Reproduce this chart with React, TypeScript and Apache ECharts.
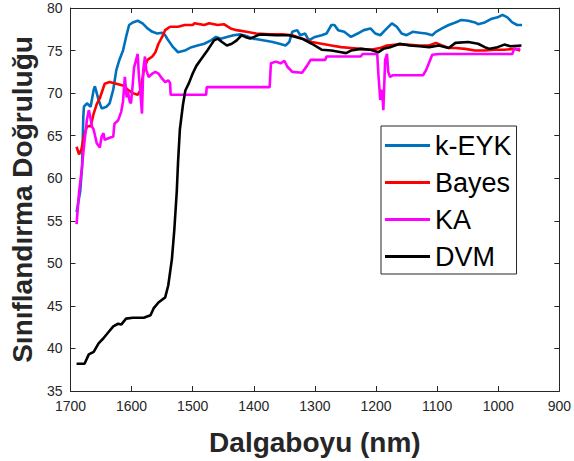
import React, { useEffect, useRef } from "react";
import * as echarts from "echarts";

const seriesNames = ["k-EYK", "Bayes", "KA", "DVM"];
const seriesColors = ["#0072BD", "#FF0000", "#FF00FF", "#000000"];

const kEYK: [number, number][] = [
  [1690, 56.0], [1684, 58.5], [1681, 61.4], [1679, 67.2], [1678, 68.4], [1673, 68.8], [1667, 68.4],
  [1662, 70.4], [1660, 70.8], [1654, 69.2], [1649, 68.2], [1641, 68.4], [1636, 68.8], [1630, 70.4],
  [1625, 72.7], [1620, 73.9], [1614, 75.0], [1609, 76.6], [1604, 78.0], [1598, 78.3], [1590, 78.5],
  [1582, 78.2], [1574, 77.6], [1566, 77.2], [1558, 77.0], [1550, 77.1], [1545, 76.8], [1540, 76.2],
  [1532, 75.4], [1524, 74.8], [1513, 75.0], [1502, 75.4], [1492, 75.6], [1481, 75.8], [1470, 76.2],
  [1462, 76.6], [1454, 76.4], [1444, 76.6], [1433, 76.8], [1422, 76.9], [1412, 76.7], [1401, 76.4],
  [1385, 76.2], [1369, 76.0], [1358, 75.8], [1348, 75.6], [1342, 76.0], [1337, 77.2], [1329, 77.4],
  [1324, 76.8], [1316, 77.0], [1310, 76.2], [1300, 76.6], [1289, 76.8], [1281, 77.0], [1273, 78.0],
  [1268, 78.0], [1262, 77.4], [1252, 77.2], [1241, 76.6], [1230, 77.0], [1220, 77.4], [1209, 77.6],
  [1201, 77.0], [1193, 76.8], [1185, 77.4], [1174, 78.2], [1166, 77.8], [1158, 77.0], [1150, 76.8],
  [1140, 77.2], [1129, 77.1], [1118, 77.0], [1108, 76.8], [1102, 77.2], [1092, 77.6], [1081, 78.0],
  [1070, 78.3], [1060, 78.6], [1049, 78.5], [1038, 78.3], [1033, 78.1], [1022, 78.3], [1012, 78.7],
  [1001, 78.9], [993, 79.2], [985, 78.9], [977, 78.3], [969, 78.0], [961, 78.0],
];

const bayes: [number, number][] = [
  [1690, 63.7], [1686, 62.8], [1682, 63.4], [1678, 64.9], [1673, 66.1], [1667, 66.1], [1662, 67.6],
  [1657, 68.7], [1652, 69.4], [1644, 71.1], [1636, 71.3], [1625, 71.1], [1614, 70.9], [1606, 70.4],
  [1598, 70.0], [1590, 69.8], [1585, 70.4], [1580, 72.7], [1574, 73.9], [1566, 74.3], [1561, 74.8],
  [1556, 75.8], [1550, 76.6], [1545, 77.4], [1537, 77.8], [1524, 77.8], [1513, 78.0], [1500, 78.0],
  [1497, 78.2], [1481, 78.0], [1473, 78.2], [1459, 78.0], [1449, 78.1], [1438, 77.6], [1428, 77.4],
  [1412, 77.2], [1396, 77.0], [1374, 76.9], [1353, 76.9], [1337, 76.8], [1321, 76.4], [1305, 76.0],
  [1289, 75.8], [1273, 75.6], [1257, 75.4], [1241, 75.3], [1225, 75.2], [1209, 75.1], [1193, 75.3],
  [1182, 75.6], [1166, 75.7], [1150, 75.7], [1129, 75.6], [1113, 75.6], [1102, 75.9], [1092, 75.6],
  [1081, 75.3], [1070, 75.3], [1054, 75.2], [1038, 75.0], [1022, 75.0], [1006, 75.1], [990, 75.1],
  [974, 75.2], [964, 75.0],
];

const ka: [number, number][] = [
  [1690, 54.6], [1686, 58.3], [1681, 61.4], [1678, 63.7], [1675.5, 65.3], [1673, 66.9], [1670, 68.0],
  [1667.5, 67.2], [1665, 66.1], [1662, 65.7], [1657, 64.1], [1652, 63.6], [1649, 64.9], [1646, 65.3],
  [1644, 64.5], [1638, 64.7], [1630, 64.9], [1628, 66.4], [1622, 66.8], [1617, 67.8], [1614, 69.0],
  [1611, 71.9], [1608, 69.5], [1606, 70.2], [1603, 69.0], [1601, 68.8], [1598, 71.1], [1596, 73.0],
  [1590, 74.6], [1588, 72.0], [1586, 70.5], [1583, 67.6], [1581, 72.7], [1578, 74.3], [1576, 72.7],
  [1572, 71.9], [1566, 72.3], [1561, 72.5], [1556, 72.3], [1550, 71.7], [1545, 71.3], [1540, 71.5],
  [1537, 71.2], [1536, 69.8], [1478, 69.8], [1477, 70.7], [1374, 70.7], [1372, 73.5], [1364, 73.7],
  [1356, 73.5], [1350, 73.8], [1345, 73.1], [1337, 72.5], [1321, 72.4], [1313, 73.2], [1307, 73.9],
  [1283, 73.9], [1281, 74.3], [1225, 74.3], [1222, 74.6], [1198, 74.6], [1196, 72.1], [1193, 69.2],
  [1190, 70.4], [1188, 68.0], [1185, 73.9], [1182, 74.6], [1180, 72.5], [1177, 71.9], [1172, 72.1],
  [1123, 72.1], [1118, 72.7], [1113, 73.6], [1108, 74.5], [1097, 74.6], [977, 74.6], [974, 75.2],
  [964, 75.2],
];

const dvm: [number, number][] = [
  [1690, 38.2], [1677, 38.2], [1670, 39.3], [1662, 39.6], [1654, 40.6], [1646, 41.2], [1638, 41.9],
  [1630, 42.6], [1622, 42.9], [1617, 42.8], [1609, 43.5], [1598, 43.6], [1580, 43.6], [1569, 43.9],
  [1564, 44.7], [1556, 45.4], [1545, 46.0], [1540, 47.4], [1534, 50.5], [1530, 54.0], [1526, 58.5],
  [1524, 61.8], [1521, 65.7], [1516, 68.6], [1512, 70.3], [1506, 71.2], [1500, 72.3], [1494, 73.2],
  [1486, 74.0], [1476, 75.0], [1465, 76.2], [1459, 76.4], [1452, 76.0], [1444, 75.6], [1436, 75.8],
  [1428, 76.2], [1420, 76.8], [1414, 76.6], [1406, 76.4], [1390, 76.9], [1364, 76.8], [1342, 76.8],
  [1321, 76.4], [1305, 75.8], [1289, 75.1], [1273, 75.0], [1257, 74.8], [1249, 74.7], [1241, 75.0],
  [1225, 75.2], [1209, 75.1], [1196, 74.8], [1188, 75.2], [1177, 75.4], [1161, 75.8], [1145, 75.6],
  [1129, 75.5], [1113, 75.4], [1097, 75.6], [1081, 75.3], [1070, 75.9], [1049, 76.0], [1033, 75.8],
  [1022, 75.4], [1014, 75.2], [1001, 75.4], [990, 75.7], [980, 75.5], [962, 75.6],
];

const xTicks = { min: 900, max: 1700, interval: 100 };
const yTicks = { min: 35, max: 80, interval: 5 };
const xTitle = "Dalgaboyu (nm)";
const yTitle = "Sınıflandırma Doğruluğu";

const FONT = "'Liberation Sans', Arial, Helvetica, sans-serif";
const AX = "#262626";

export default function App() {
  const ref = useRef<HTMLDivElement>(null);
  useEffect(() => {
    if (!ref.current) return;
    const chart = echarts.init(ref.current, undefined, { renderer: "svg" });
    const allData = [kEYK, bayes, ka, dvm];
    const axisCommon = {
      axisLine: { show: true, lineStyle: { color: AX, width: 1 } },
      axisTick: { show: true, inside: true, length: 5, lineStyle: { color: AX } },
      splitLine: { show: false },
    };
    const plain = (v: number) => String(v);
    chart.setOption({
      animation: false,
      backgroundColor: "#ffffff",
      textStyle: { fontFamily: FONT },
      grid: { left: 63, right: 11, top: 8, bottom: 69, containLabel: false },
      legend: {
        data: seriesNames,
        orient: "vertical",
        left: 381,
        top: 126,
        padding: [6, 5, 4, 4],
        itemWidth: 45,
        itemHeight: 3,
        itemGap: 10,
        icon: "rect",
        backgroundColor: "#ffffff",
        borderColor: AX,
        borderWidth: 1,
        borderRadius: 0,
        textStyle: { fontSize: 27, color: "#000", fontFamily: FONT, lineHeight: 26 },
      },
      xAxis: [
        {
          type: "value",
          inverse: true,
          ...xTicks,
          ...axisCommon,
          axisLabel: { color: AX, fontSize: 14, margin: 8, fontFamily: FONT, formatter: plain },
          name: xTitle,
          nameLocation: "middle",
          nameGap: 37,
          nameTextStyle: { fontSize: 28, fontWeight: "bold", color: AX, fontFamily: FONT },
        },
        {
          type: "value",
          inverse: true,
          position: "top",
          ...xTicks,
          ...axisCommon,
          axisLabel: { show: false },
        },
      ],
      yAxis: [
        {
          type: "value",
          ...yTicks,
          ...axisCommon,
          axisLabel: { color: AX, fontSize: 14, margin: 8, fontFamily: FONT, formatter: plain },
          name: yTitle,
          nameLocation: "middle",
          nameGap: 33,
          nameTextStyle: { fontSize: 28, fontWeight: "bold", color: AX, fontFamily: FONT },
        },
        {
          type: "value",
          position: "right",
          ...yTicks,
          ...axisCommon,
          axisLabel: { show: false },
        },
      ],
      series: seriesNames.map((name, i) => ({
        name,
        type: "line",
        data: allData[i],
        showSymbol: false,
        symbol: "none",
        lineStyle: { color: seriesColors[i], width: 2.6 },
        itemStyle: { color: seriesColors[i] },
        z: 2 + i,
      })),
    });
    return () => chart.dispose();
  }, []);
  return <div ref={ref} style={{ width: 574, height: 461, position: "absolute", left: 0, top: 0 }} />;
}
